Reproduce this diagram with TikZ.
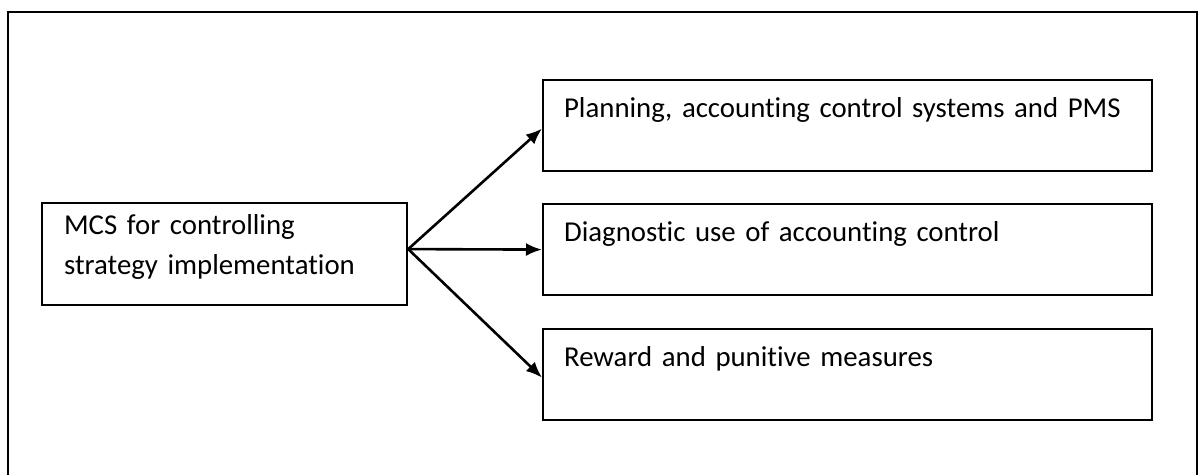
\documentclass[tikz,border=0pt]{standalone}
\usepackage{fontspec}
\setmainfont{Carlito}[Ligatures=NoCommon]
\usetikzlibrary{arrows.meta,positioning}

\begin{document}
\begin{tikzpicture}[x=0.5pt,y=-0.5pt,
  box/.style={draw,line width=1.1pt,anchor=north west,inner ysep=0pt,
    align=left,font=\fontsize{14.4pt}{20pt}\selectfont},
  mcsbox/.style={box,inner xsep=11pt,text width=160.5pt,
    text height=15.5pt,text depth=35.5pt},
  itembox/.style={box,inner xsep=10.5pt,text width=283.5pt,
    text height=18.5pt,text depth=27pt},
  link/.style={line width=1.3pt,-{Latex[length=8pt,width=6.5pt]}}]
  \useasboundingbox (0,0) rectangle (1200,475);
  % outer frame, open at the bottom
  \draw[line width=1.3pt] (8,475) -- (8,12) -- (1197,12) -- (1197,475);

  \node[mcsbox] (mcs) at (41,202) {MCS for controlling\\strategy implementation};

  \node[itembox] (plan)   at (542,79)  {Planning, accounting control systems and PMS};
  \node[itembox] (diag)   at (542,203) {Diagnostic use of accounting control};
  \node[itembox] (reward) at (542,328) {Reward and punitive measures};

  \coordinate (fork) at ([yshift=2.5pt]mcs.east);
  \draw[link] (fork) -- ([yshift=-1.5pt]plan.west);
  \draw[link] (fork) -- (diag.west);
  \draw[link] (fork) -- ([yshift=-1.5pt]reward.west);
\end{tikzpicture}
\end{document}
